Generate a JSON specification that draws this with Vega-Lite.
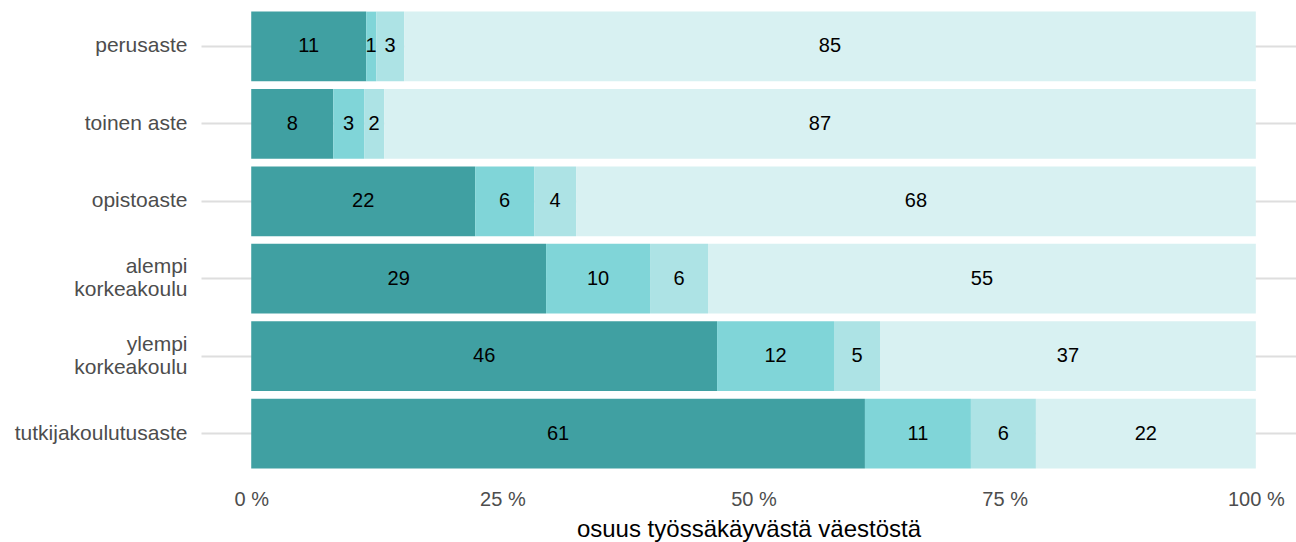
{
  "$schema": "https://vega.github.io/schema/vega-lite/v6.json",
  "width": 1095,
  "height": 480,
  "autosize": {"type": "none"},
  "padding": {"left": 201, "top": 0, "right": 0, "bottom": 62},
  "background": "white",
  "config": {"view": {"stroke": null}, "font": "Liberation Sans"},
  "data": {
    "values": [
      {"koulutus": "perusaste", "osa": "a", "o": 1, "arvo": 11.44},
      {"koulutus": "perusaste", "osa": "b", "o": 2, "arvo": 1.0},
      {"koulutus": "perusaste", "osa": "c", "o": 3, "arvo": 2.78},
      {"koulutus": "perusaste", "osa": "d", "o": 4, "arvo": 84.78},
      {"koulutus": "toinen aste", "osa": "a", "o": 1, "arvo": 8.16},
      {"koulutus": "toinen aste", "osa": "b", "o": 2, "arvo": 3.08},
      {"koulutus": "toinen aste", "osa": "c", "o": 3, "arvo": 1.99},
      {"koulutus": "toinen aste", "osa": "d", "o": 4, "arvo": 86.77},
      {"koulutus": "opistoaste", "osa": "a", "o": 1, "arvo": 22.29},
      {"koulutus": "opistoaste", "osa": "b", "o": 2, "arvo": 5.87},
      {"koulutus": "opistoaste", "osa": "c", "o": 3, "arvo": 4.18},
      {"koulutus": "opistoaste", "osa": "d", "o": 4, "arvo": 67.66},
      {"koulutus": "alempi|korkeakoulu", "osa": "a", "o": 1, "arvo": 29.35},
      {"koulutus": "alempi|korkeakoulu", "osa": "b", "o": 2, "arvo": 10.35},
      {"koulutus": "alempi|korkeakoulu", "osa": "c", "o": 3, "arvo": 5.77},
      {"koulutus": "alempi|korkeakoulu", "osa": "d", "o": 4, "arvo": 54.53},
      {"koulutus": "ylempi|korkeakoulu", "osa": "a", "o": 1, "arvo": 46.37},
      {"koulutus": "ylempi|korkeakoulu", "osa": "b", "o": 2, "arvo": 11.64},
      {"koulutus": "ylempi|korkeakoulu", "osa": "c", "o": 3, "arvo": 4.58},
      {"koulutus": "ylempi|korkeakoulu", "osa": "d", "o": 4, "arvo": 37.41},
      {"koulutus": "tutkijakoulutusaste", "osa": "a", "o": 1, "arvo": 61.09},
      {"koulutus": "tutkijakoulutusaste", "osa": "b", "o": 2, "arvo": 10.55},
      {"koulutus": "tutkijakoulutusaste", "osa": "c", "o": 3, "arvo": 6.47},
      {"koulutus": "tutkijakoulutusaste", "osa": "d", "o": 4, "arvo": 21.89}
    ]
  },
  "transform": [
    {"stack": "arvo", "groupby": ["koulutus"], "sort": [{"field": "o", "order": "ascending"}], "as": ["x0", "x1"]},
    {"calculate": "(datum.x0 + datum.x1) / 2", "as": "xm"}
  ],
  "encoding": {
    "y": {
      "field": "koulutus",
      "type": "nominal",
      "sort": ["perusaste", "toinen aste", "opistoaste", "alempi|korkeakoulu", "ylempi|korkeakoulu", "tutkijakoulutusaste"],
      "scale": {"paddingInner": 0.1, "paddingOuter": 0.15},
      "axis": {
        "title": null,
        "labelExpr": "split(datum.label, '|')",
        "labelFontSize": 21,
        "labelColor": "#4d4d4d",
        "labelPadding": 14,
        "labelLineHeight": 23,
        "labelOffset": {"condition": {"test": "indexof(datum.value, '|') >= 0", "value": -11.5}, "value": 0},
        "domain": false,
        "ticks": false,
        "grid": true,
        "gridColor": "#dedede",
        "gridWidth": 2.2,
        "bandPosition": 0.5
      }
    }
  },
  "layer": [
    {
      "mark": {"type": "bar"},
      "encoding": {
        "x": {
          "field": "x0",
          "type": "quantitative",
          "scale": {"domain": [-5, 104], "nice": false, "zero": false},
          "axis": {
            "values": [0, 25, 50, 75, 100],
            "labelExpr": "datum.value + ' %'",
            "labelFontSize": 20,
            "labelColor": "#4d4d4d",
            "labelPadding": 9,
            "grid": false,
            "domain": false,
            "ticks": false,
            "title": "osuus työssäkäyvästä väestöstä",
            "titleFontSize": 24,
            "titleFontWeight": "normal",
            "titleColor": "#000000",
            "titlePadding": 8
          }
        },
        "x2": {"field": "x1"},
        "color": {
          "field": "osa",
          "type": "nominal",
          "scale": {"domain": ["a", "b", "c", "d"], "range": ["#40a0a2", "#80d5d8", "#ade3e5", "#d8f1f2"]},
          "legend": null
        }
      }
    },
    {
      "mark": {"type": "text", "fontSize": 20, "color": "#000000", "align": "center", "baseline": "middle"},
      "encoding": {
        "x": {"field": "xm", "type": "quantitative"},
        "text": {"field": "arvo", "type": "quantitative", "format": ".0f"}
      }
    }
  ]
}
